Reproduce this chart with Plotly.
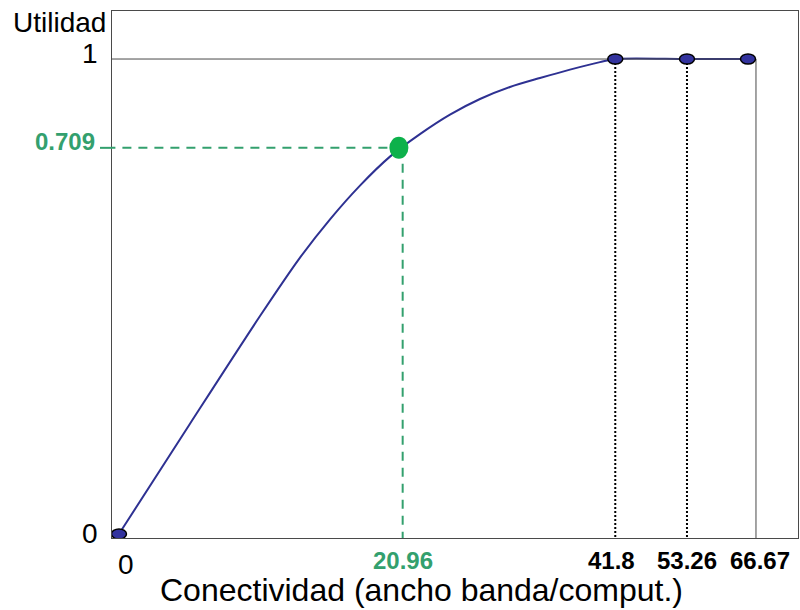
import plotly.graph_objects as go

# ---- data (schematic diagram: axes are not to scale, values are drawn at their
#      schematic positions along each axis, expressed as fractions 0..1 of axis span)
x_labels = ["0", "20.96", "41.8", "53.26", "66.67"]
x_label_pos = [0.0, 0.451, 0.789, 0.903, 1.0]          # schematic position of each x value
y_labels = ["0", "0.709", "1"]
y_label_pos = [0.0, 0.813, 1.0]                           # schematic position of each y value

# utility curve (schematic coordinates)
curve_x = [0, 0.1129, 0.2242, 0.2878, 0.3355, 0.3831, 0.4308, 0.4785, 0.5262,
           0.5739, 0.6216, 0.6693, 0.7170, 0.7647, 0.789, 0.903, 1.0]
curve_y = [0, 0.2322, 0.4589, 0.5819, 0.6625, 0.7335, 0.7945, 0.8419, 0.8829,
           0.9158, 0.9411, 0.9600, 0.9777, 0.9935, 1.0, 1.0, 1.0]

# points marked with blue ellipses
blue_pts_x = [0.0, 0.789, 0.903, 1.0]
blue_pts_y = [0.0, 1.0, 1.0, 1.0]
# highlighted point (20.96, 0.709)
green_x, green_y = 0.451, 0.813

x_title = "Conectividad (ancho banda/comput.)"
y_title = "Utilidad"

FONT = "Arial, Liberation Sans, sans-serif"
GREEN_TXT = "#33A06E"
GREEN_DOT = "#0DB14B"
BLUE = "#2E3192"
FRAME = "#4a4a4a"

fig = go.Figure()
fig.add_trace(go.Scatter(x=curve_x, y=curve_y, mode="lines",
                         line=dict(color=BLUE, width=2, shape="spline", smoothing=0.8),
                         hoverinfo="skip", showlegend=False))

shapes = []
# reference frame lines (y = 1 level and right vertical)
x_right_inner = 1.0127
shapes.append(dict(type="line", xref="x", yref="y", x0=-0.02, x1=x_right_inner, y0=1, y1=1,
                   line=dict(color=FRAME, width=1)))
shapes.append(dict(type="line", xref="x", yref="y", x0=x_right_inner, x1=x_right_inner, y0=1, y1=-0.02,
                   line=dict(color=FRAME, width=1)))
# dotted drop lines
for xv in blue_pts_x[1:3]:
    shapes.append(dict(type="line", xref="x", yref="y", x0=xv, x1=xv, y0=1, y1=-0.02,
                       line=dict(color="black", width=2, dash="2px,2px")))
# green dashed guide lines
shapes.append(dict(type="line", xref="x", yref="y", x0=-0.02, x1=green_x, y0=green_y, y1=green_y,
                   line=dict(color=GREEN_TXT, width=2, dash="9px,7px")))
shapes.append(dict(type="line", xref="paper", yref="y", x0=-0.0175, x1=0, y0=green_y, y1=green_y,
                   line=dict(color=GREEN_TXT, width=2)))
shapes.append(dict(type="line", xref="x", yref="y", x0=green_x, x1=green_x, y0=green_y, y1=-0.02,
                   line=dict(color=GREEN_TXT, width=2, dash="9px,7px")))
# blue ellipse markers
for xv, yv in zip(blue_pts_x, blue_pts_y):
    shapes.append(dict(type="circle", xref="x", yref="y", xsizemode="pixel", ysizemode="pixel",
                       xanchor=xv, yanchor=yv, x0=-7.5, x1=7.5, y0=-5, y1=5,
                       fillcolor="#33339E", line=dict(color="black", width=1.5)))
# green highlighted point
shapes.append(dict(type="circle", xref="x", yref="y", xsizemode="pixel", ysizemode="pixel",
                   xanchor=green_x - 0.006, yanchor=green_y, x0=-9.5, x1=9.5, y0=-11, y1=11,
                   fillcolor=GREEN_DOT, line=dict(color=GREEN_DOT, width=0)))

ann = []
# x labels
for lab, xp in zip(x_labels, x_label_pos):
    if lab == "0":
        ann.append(dict(text=lab, x=xp, xref="x", y=0, yref="paper", xshift=7, yshift=-26,
                        yanchor="middle", xanchor="center", showarrow=False,
                        font=dict(family=FONT, size=28, color="black")))
    else:
        col = GREEN_TXT if lab == "20.96" else "black"
        xs = {"20.96": 0, "41.8": -4, "53.26": 0, "66.67": 12}[lab]
        ann.append(dict(text="<b>%s</b>" % lab, x=xp, xref="x", y=0, yref="paper", xshift=xs,
                        yshift=-22, yanchor="middle", xanchor="center", showarrow=False,
                        font=dict(family=FONT, size=24, color=col)))
# y labels
for lab, yp in zip(y_labels, y_label_pos):
    if lab == "0.709":
        ann.append(dict(text="<b>%s</b>" % lab, x=0, xref="paper", y=yp, yref="y", xshift=-15,
                        yshift=6, xanchor="right", yanchor="middle", showarrow=False,
                        font=dict(family=FONT, size=24, color=GREEN_TXT)))
    else:
        ann.append(dict(text=lab, x=0, xref="paper", y=yp, yref="y", xshift=-12,
                        yshift=6 if lab == "1" else 1, xanchor="right", yanchor="middle",
                        showarrow=False, font=dict(family=FONT, size=28, color="black")))
ann.append(dict(text=y_title, x=0, xref="paper", y=1, yref="paper", xshift=-4, yshift=-11,
                xanchor="right", yanchor="middle", showarrow=False,
                font=dict(family=FONT, size=28, color="black")))
ann.append(dict(text=x_title, x=0.5, xref="paper", y=0, yref="paper", xshift=-34, yshift=-52,
                xanchor="center", yanchor="middle", showarrow=False,
                font=dict(family=FONT, size=32, color="black")))

fig.update_layout(
    width=800, height=610,
    margin=dict(l=112, r=2, t=11, b=72),
    paper_bgcolor="white", plot_bgcolor="white",
    shapes=shapes, annotations=ann, showlegend=False,
    xaxis=dict(range=[-0.0111, 1.0795], showgrid=False, zeroline=False, showticklabels=False,
               ticks="", showline=True, mirror=True, linecolor=FRAME, linewidth=1, fixedrange=True),
    yaxis=dict(range=[-0.0084, 1.1011], showgrid=False, zeroline=False, showticklabels=False,
               ticks="", showline=True, mirror=True, linecolor=FRAME, linewidth=1, fixedrange=True),
)

fig.write_html("out.html", config={"displayModeBar": False},
               post_script="document.body.style.margin='0px';document.body.style.overflow='hidden';")
